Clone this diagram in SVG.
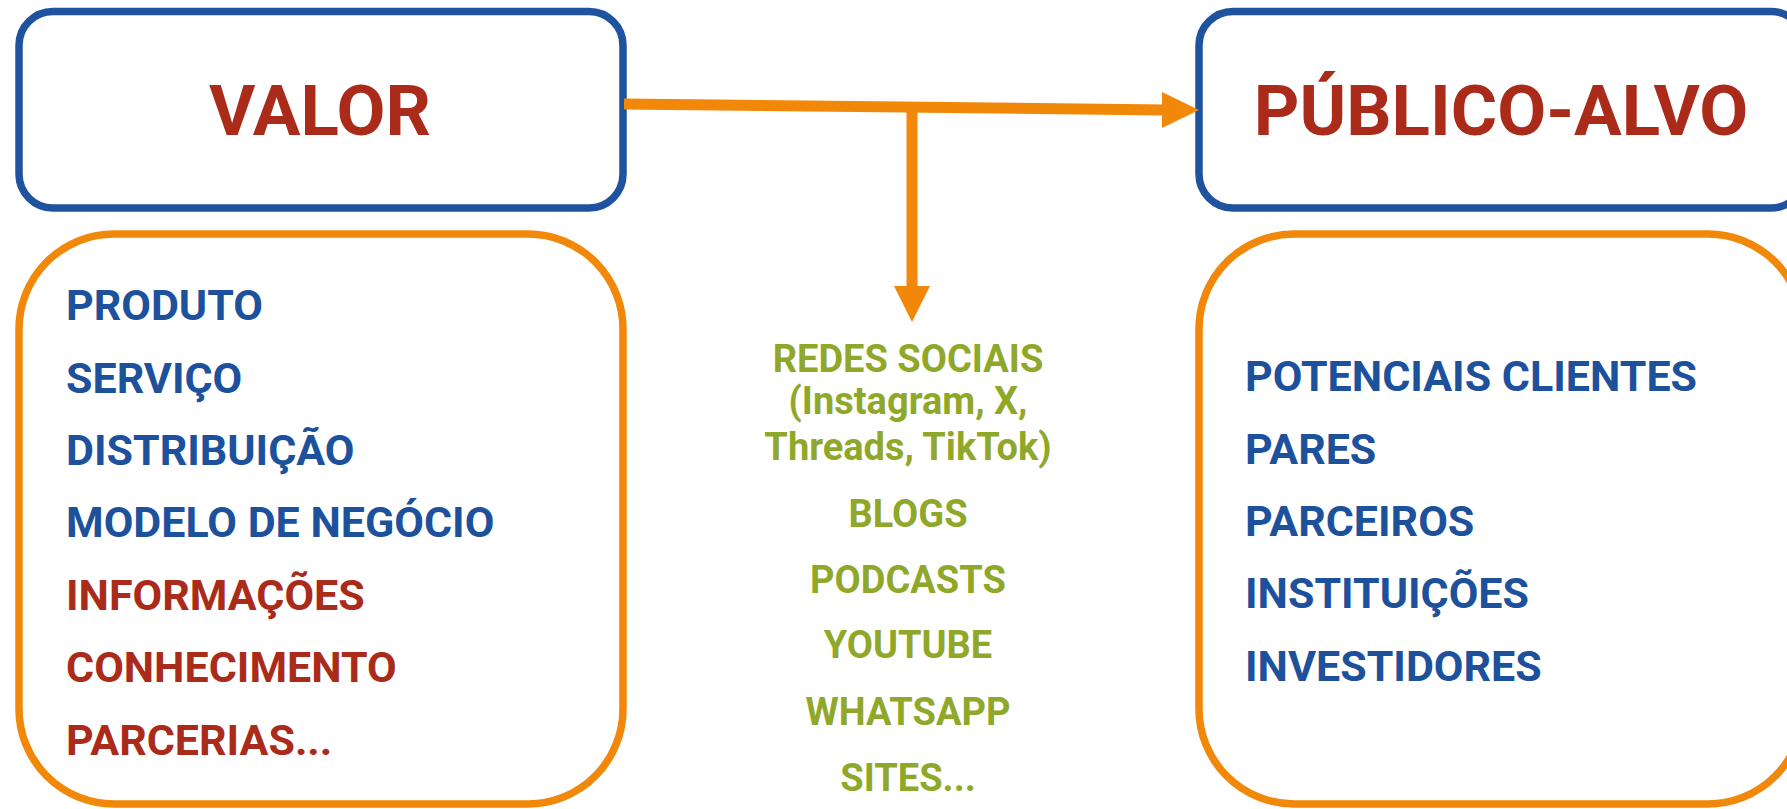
<svg xmlns="http://www.w3.org/2000/svg" width="1787" height="809" viewBox="0 0 1787 809">
<style>
.t{font-family:Roboto,"Liberation Sans",sans-serif;font-weight:700}
.title{font-size:71px;fill:#AB2B1B;text-anchor:middle}
.blue{fill:#1D519C}
.red{fill:#AB2B1B}
.item{font-size:43px}
.green{fill:#8FA82A;font-size:38px;text-anchor:middle}
.bbox{fill:#fff;stroke:#1F539F;stroke-width:7.5}
.obox{fill:#fff;stroke:#F2880A;stroke-width:7.5}
.conn{stroke:#F2880A;stroke-width:11;fill:none}
.head{fill:#F2880A}
</style>
<rect width="1787" height="809" fill="#fff"/>
<g id="valor">
<rect class="bbox" x="19" y="11.5" width="604" height="196.5" rx="34"/>
<text class="t title" x="320" y="135">VALOR</text>
</g>
<g id="publico-alvo">
<rect class="bbox" x="1199" y="11.5" width="606" height="196.5" rx="34"/>
<text class="t title" x="1501" y="135">PÚBLICO-ALVO</text>
</g>
<g id="valor-lista">
<rect class="obox" x="19" y="234" width="604" height="570" rx="95"/>
<text class="t item blue" x="66" y="320">PRODUTO</text>
<text class="t item blue" x="66" y="392.5">SERVIÇO</text>
<text class="t item blue" x="66" y="465">DISTRIBUIÇÃO</text>
<text class="t item blue" x="66" y="537">MODELO DE NEGÓCIO</text>
<text class="t item red" x="66" y="610">INFORMAÇÕES</text>
<text class="t item red" x="66" y="682">CONHECIMENTO</text>
<text class="t item red" x="66" y="755">PARCERIAS...</text>
</g>
<g id="publico-lista">
<rect class="obox" x="1199" y="234" width="604" height="570" rx="95"/>
<text class="t item blue" x="1245" y="391">POTENCIAIS CLIENTES</text>
<text class="t item blue" x="1245" y="464">PARES</text>
<text class="t item blue" x="1245" y="536">PARCEIROS</text>
<text class="t item blue" x="1245" y="608">INSTITUIÇÕES</text>
<text class="t item blue" x="1245" y="681">INVESTIDORES</text>
</g>
<g id="canais">
<text class="t green" x="908" y="372">REDES SOCIAIS</text>
<text class="t green" x="908" y="414">(Instagram, X,</text>
<text class="t green" x="908" y="460">Threads, TikTok)</text>
<text class="t green" x="908" y="527">BLOGS</text>
<text class="t green" x="908" y="593">PODCASTS</text>
<text class="t green" x="908" y="658">YOUTUBE</text>
<text class="t green" x="908" y="725">WHATSAPP</text>
<text class="t green" x="908" y="791">SITES...</text>
</g>
<g id="connectors">
<line class="conn" x1="624" y1="104" x2="1166" y2="110"/>
<polygon class="head" points="1162,92 1199,110 1162,128"/>
<line class="conn" x1="912" y1="107" x2="912" y2="290"/>
<polygon class="head" points="894,286 930,286 912,322"/>
</g>
</svg>
